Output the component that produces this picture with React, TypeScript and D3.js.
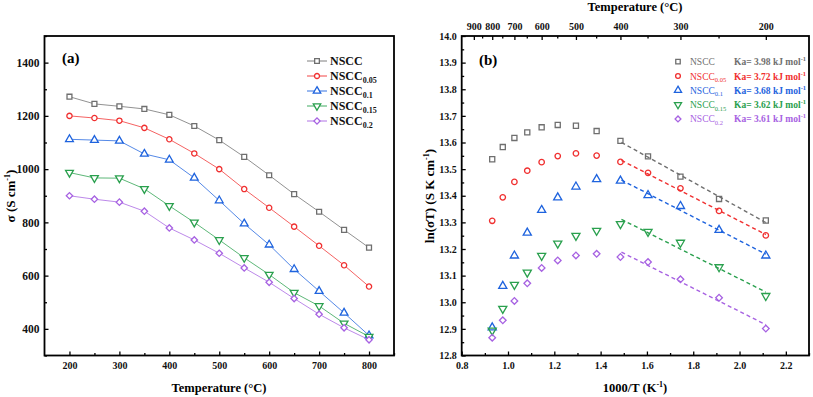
import React, { useEffect, useRef } from 'react';
import * as d3 from 'd3';

// temperatures (°C) shared by both panels
const temps = [200, 250, 300, 350, 400, 450, 500, 550, 600, 650, 700, 750, 800];
// 1000/T (K^-1) for the same temperatures
const invT = [2.1135, 1.9115, 1.7448, 1.6047, 1.4856, 1.3828, 1.2934, 1.2148, 1.1453, 1.0832, 1.0276, 0.9774, 0.9318];

const subs = ['', '0.05', '0.1', '0.15', '0.2'];
const colors = ['#6f6f6f', '#f03030', '#1e63de', '#2aa04e', '#a762e2'];
const kaValues = ['3.98', '3.72', '3.68', '3.62', '3.61'];

// panel (a): conductivity, S cm-1
const sigmaNSCC = [1272, 1245, 1236, 1226, 1204, 1162, 1109, 1046, 977, 906, 840, 772, 705];
const sigma005 = [1200, 1192, 1182, 1155, 1112, 1059, 1000, 925, 855, 784, 712, 639, 559];
const sigma01 = [1112, 1109, 1106, 1057, 1035, 967, 882, 795, 716, 624, 542, 460, 375];
const sigma015 = [987, 967, 966, 926, 862, 800, 734, 667, 604, 536, 486, 421, 371];
const sigma02 = [900, 887, 876, 842, 779, 734, 684, 629, 575, 514, 455, 404, 359];

// panel (b): ln(sigma T)
const lnNSCC = [13.307, 13.388, 13.472, 13.548, 13.606, 13.643, 13.663, 13.666, 13.657, 13.638, 13.617, 13.583, 13.537];
const ln005 = [13.251, 13.343, 13.428, 13.486, 13.527, 13.551, 13.559, 13.549, 13.526, 13.494, 13.452, 13.394, 13.306];
const ln01 = [13.175, 13.271, 13.361, 13.402, 13.456, 13.462, 13.434, 13.393, 13.346, 13.261, 13.175, 13.061, 12.905];
const ln015 = [13.024, 13.132, 13.224, 13.265, 13.294, 13.269, 13.25, 13.221, 13.175, 13.112, 13.066, 12.976, 12.894];
const ln02 = [12.901, 13.017, 13.086, 13.151, 13.17, 13.182, 13.176, 13.157, 13.129, 13.071, 13.005, 12.932, 12.867];

const topTemps = [900, 800, 700, 600, 500, 400, 300, 200];
const topMinor = [850, 750, 650, 550, 450, 350, 250];

const sigmaAll = [sigmaNSCC, sigma005, sigma01, sigma015, sigma02];
const lnAll = [lnNSCC, ln005, ln01, ln015, ln02];

const FONT = 'Liberation Serif, Times New Roman, serif';

const symbolPath = (i: number, size: number) => {
  const types = [d3.symbolSquare, d3.symbolCircle, d3.symbolTriangle, d3.symbolTriangle, d3.symbolSquare];
  const sizes = [size, size * 0.9, size * 1.1, size * 1.1, size * 0.85];
  return d3.symbol().type(types[i]).size(sizes[i])();
};
const symbolRot = [0, 0, 0, 180, 45];

const App = () => {
  const svgRef = useRef(null);

  useEffect(() => {
    const svg = d3.select(svgRef.current);
    svg.selectAll('*').remove();

    // ---------- panel (a) ----------
    const xA = d3.scaleLinear().domain([150, 850]).range([44.5, 394]);
    const yA = d3.scaleLinear().domain([300, 1500]).range([355.5, 36]);
    const gA = svg.append('g');

    gA.append('g')
      .attr('transform', 'translate(0,355.5)')
      .call(d3.axisBottom(xA).tickValues(d3.range(200, 801, 100)).tickSize(-4).tickPadding(6).tickFormat(d3.format('d')))
      .call(g => g.select('.domain').remove())
      .call(g => g.selectAll('text').attr('font-size', 10).attr('font-weight', 'bold').attr('font-family', FONT).attr('fill', '#111'));
    gA.append('g')
      .attr('transform', 'translate(0,355.5)')
      .call(d3.axisBottom(xA).tickValues(d3.range(250, 851, 100)).tickSize(-2.5).tickFormat(() => ''))
      .call(g => g.select('.domain').remove());
    gA.append('g')
      .attr('transform', 'translate(44.5,0)')
      .call(d3.axisLeft(yA).tickValues(d3.range(400, 1401, 200)).tickSize(-4).tickPadding(5).tickFormat(d3.format('d')))
      .call(g => g.select('.domain').remove())
      .call(g => g.selectAll('text').attr('font-size', 11.5).attr('font-weight', 'bold').attr('font-family', FONT).attr('fill', '#111'));
    gA.append('g')
      .attr('transform', 'translate(44.5,0)')
      .call(d3.axisLeft(yA).tickValues(d3.range(300, 1501, 200)).tickSize(-2.5).tickFormat(() => ''))
      .call(g => g.select('.domain').remove());
    gA.selectAll('.tick line').attr('stroke', '#000').attr('stroke-width', 1.3);

    gA.append('rect')
      .attr('x', 44.5).attr('y', 36).attr('width', 394 - 44.5).attr('height', 355.5 - 36)
      .attr('fill', 'none').attr('stroke', '#000').attr('stroke-width', 1.8);

    const lineA = d3.line<number>().x((d, j) => xA(temps[j])).y(d => yA(d));
    sigmaAll.forEach((vals, i) => {
      gA.append('path').attr('d', lineA(vals)).attr('fill', 'none')
        .attr('stroke', colors[i]).attr('stroke-width', 0.9).attr('opacity', 0.85);
      gA.selectAll(null).data(vals).enter().append('path')
        .attr('d', symbolPath(i, 24))
        .attr('transform', (d, j) => `translate(${xA(temps[j])},${yA(d)}) rotate(${symbolRot[i]})`)
        .attr('fill', '#fff').attr('stroke', colors[i]).attr('stroke-width', 1.3);
    });

    gA.append('text').attr('x', 62).attr('y', 63).attr('font-family', FONT).attr('font-weight', 'bold')
      .attr('font-size', 15).text('(a)');

    // legend (a)
    sigmaAll.forEach((_, i) => {
      const ly = 61 + i * 15;
      gA.append('line').attr('x1', 307).attr('x2', 327).attr('y1', ly).attr('y2', ly)
        .attr('stroke', colors[i]).attr('stroke-width', 0.9);
      gA.append('path').attr('d', symbolPath(i, 22))
        .attr('transform', `translate(317,${ly}) rotate(${symbolRot[i]})`)
        .attr('fill', '#fff').attr('stroke', colors[i]).attr('stroke-width', 1.3);
      const t = gA.append('text').attr('x', 330).attr('y', ly + 4).attr('font-family', FONT)
        .attr('font-weight', 'bold').attr('font-size', 12).attr('fill', '#111');
      t.append('tspan').text('NSCC');
      if (subs[i]) t.append('tspan').attr('font-size', 8).attr('dy', 3).text(subs[i]);
    });

    gA.append('text').attr('x', 219).attr('y', 392).attr('text-anchor', 'middle').attr('font-family', FONT)
      .attr('font-weight', 'bold').attr('font-size', 12.5).text('Temperature (°C)');
    const yTitleA = gA.append('text').attr('transform', 'translate(15,196) rotate(-90)')
      .attr('text-anchor', 'middle').attr('font-family', FONT).attr('font-weight', 'bold').attr('font-size', 13);
    yTitleA.append('tspan').text('σ (S cm');
    yTitleA.append('tspan').attr('font-size', 8).attr('dy', -5).text('-1');
    yTitleA.append('tspan').attr('dy', 5).text(')');

    // ---------- panel (b) ----------
    const xB = d3.scaleLinear().domain([0.8, 2.3]).range([461.7, 809]);
    const yB = d3.scaleLinear().domain([12.8, 14.0]).range([355.5, 36]);
    const gB = svg.append('g');

    gB.append('g')
      .attr('transform', 'translate(0,355.5)')
      .call(d3.axisBottom(xB).tickValues(d3.range(0.8, 2.21, 0.2)).tickSize(-4).tickPadding(6).tickFormat(d3.format('.1f')))
      .call(g => g.select('.domain').remove())
      .call(g => g.selectAll('text').attr('font-size', 10).attr('font-weight', 'bold').attr('font-family', FONT).attr('fill', '#111'));
    gB.append('g')
      .attr('transform', 'translate(0,355.5)')
      .call(d3.axisBottom(xB).tickValues(d3.range(0.9, 2.31, 0.2)).tickSize(-2.5).tickFormat(() => ''))
      .call(g => g.select('.domain').remove());
    gB.append('g')
      .attr('transform', 'translate(461.7,0)')
      .call(d3.axisLeft(yB).tickValues(d3.range(12.8, 14.01, 0.1)).tickSize(-4).tickPadding(5).tickFormat(d3.format('.1f')))
      .call(g => g.select('.domain').remove())
      .call(g => g.selectAll('text').attr('font-size', 10).attr('font-weight', 'bold').attr('font-family', FONT).attr('fill', '#111'));
    gB.append('g')
      .attr('transform', 'translate(461.7,0)')
      .call(d3.axisLeft(yB).tickValues(d3.range(12.85, 14.0, 0.1)).tickSize(-2.5).tickFormat(() => ''))
      .call(g => g.select('.domain').remove());

    // top temperature axis
    const xTop = (t: number) => xB(1000 / (t + 273.15));
    gB.append('g')
      .attr('transform', 'translate(0,36)')
      .call(d3.axisTop(d3.scaleLinear().domain(xB.domain()).range(xB.range()))
        .tickValues(topTemps.map(t => 1000 / (t + 273.15))).tickSize(-4).tickPadding(6)
        .tickFormat((d, j) => String(topTemps[j])))
      .call(g => g.select('.domain').remove())
      .call(g => g.selectAll('text').attr('font-size', 10).attr('font-weight', 'bold').attr('font-family', FONT).attr('fill', '#111'));
    gB.selectAll(null).data(topMinor).enter().append('line')
      .attr('x1', d => xTop(d)).attr('x2', d => xTop(d)).attr('y1', 36).attr('y2', 38.5)
      .attr('stroke', '#000').attr('stroke-width', 1.3);
    gB.selectAll('.tick line').attr('stroke', '#000').attr('stroke-width', 1.3);

    gB.append('rect')
      .attr('x', 461.7).attr('y', 36).attr('width', 809 - 461.7).attr('height', 355.5 - 36)
      .attr('fill', 'none').attr('stroke', '#000').attr('stroke-width', 1.8);

    // linear fits over the 200-400 °C points
    lnAll.forEach((vals, i) => {
      const xs = invT.slice(0, 5);
      const ys = vals.slice(0, 5);
      const mx = d3.mean(xs) as number;
      const my = d3.mean(ys) as number;
      const slope = d3.sum(xs, (x, k) => (x - mx) * (ys[k] - my)) / d3.sum(xs, x => (x - mx) ** 2);
      const x0 = 1.49, x1 = invT[0];
      gB.append('line')
        .attr('x1', xB(x0)).attr('y1', yB(my + slope * (x0 - mx)))
        .attr('x2', xB(x1)).attr('y2', yB(my + slope * (x1 - mx)))
        .attr('stroke', colors[i]).attr('stroke-width', 1.4).attr('stroke-dasharray', '4,3');
    });

    lnAll.forEach((vals, i) => {
      gB.selectAll(null).data(vals).enter().append('path')
        .attr('d', symbolPath(i, 26))
        .attr('transform', (d, j) => `translate(${xB(invT[j])},${yB(d)}) rotate(${symbolRot[i]})`)
        .attr('fill', 'none').attr('stroke', colors[i]).attr('stroke-width', 1.3);
    });

    gB.append('text').attr('x', 479).attr('y', 65).attr('font-family', FONT).attr('font-weight', 'bold')
      .attr('font-size', 15).text('(b)');

    // legend (b)
    lnAll.forEach((_, i) => {
      const ly = 61.7 + i * 14.3;
      gB.append('path').attr('d', symbolPath(i, 20))
        .attr('transform', `translate(678,${ly}) rotate(${symbolRot[i]})`)
        .attr('fill', 'none').attr('stroke', colors[i]).attr('stroke-width', 1.3);
      const t = gB.append('text').attr('x', 690).attr('y', ly + 3.5).attr('font-family', FONT)
        .attr('font-size', 9.5).attr('fill', colors[i]);
      t.append('tspan').text('NSCC');
      if (subs[i]) t.append('tspan').attr('font-size', 6.5).attr('dy', 2.5).text(subs[i]);
      const k = gB.append('text').attr('x', 734).attr('y', ly + 3.5).attr('font-family', FONT)
        .attr('font-weight', 'bold').attr('font-size', 9.5).attr('fill', colors[i]);
      k.append('tspan').text(`Ka= ${kaValues[i]} kJ mol`);
      k.append('tspan').attr('font-size', 6.5).attr('dy', -4).text('-1');
    });

    gB.append('text').attr('x', 635).attr('y', 392).attr('text-anchor', 'middle').attr('font-family', FONT)
      .attr('font-weight', 'bold').attr('font-size', 12.5)
      .call(t => {
        t.append('tspan').text('1000/T (K');
        t.append('tspan').attr('font-size', 8).attr('dy', -5).text('-1');
        t.append('tspan').attr('dy', 5).text(')');
      });
    gB.append('text').attr('x', 635).attr('y', 11).attr('text-anchor', 'middle').attr('font-family', FONT)
      .attr('font-weight', 'bold').attr('font-size', 12.5).text('Temperature (°C)');
    const yTitleB = gB.append('text').attr('transform', 'translate(434,196) rotate(-90)')
      .attr('text-anchor', 'middle').attr('font-family', FONT).attr('font-weight', 'bold').attr('font-size', 13);
    yTitleB.append('tspan').text('ln(σT) (S K cm');
    yTitleB.append('tspan').attr('font-size', 8).attr('dy', -5).text('-1');
    yTitleB.append('tspan').attr('dy', 5).text(')');
  }, []);

  return (
    <div style={{ position: 'absolute', left: 0, top: 0, background: '#fff' }}>
      <svg ref={svgRef} width={813} height={397}></svg>
    </div>
  );
};

export default App;
